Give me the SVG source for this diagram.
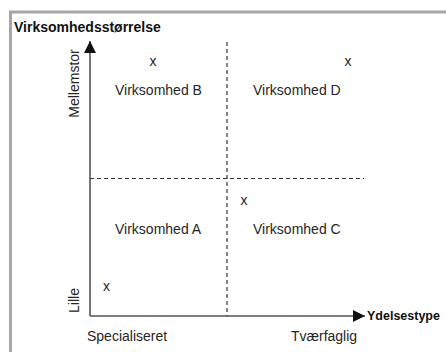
<svg xmlns="http://www.w3.org/2000/svg" width="446" height="352" viewBox="0 0 446 352">
<defs>
<style>
.lbl{font-family:"Liberation Sans",Arial,sans-serif;font-size:14px;fill:#262626}
.ttl{font-family:"Liberation Sans",Arial,sans-serif;font-size:14px;font-weight:bold;fill:#111}
.yt{font-family:"Liberation Sans",Arial,sans-serif;font-size:12.5px;font-weight:bold;fill:#111}
.axis{stroke:#555;stroke-width:1.6;fill:none}
.dash{stroke:#333;stroke-width:1.2;stroke-dasharray:4,3;fill:none}
</style>
<marker id="ah" viewBox="0 0 10 10" refX="10" refY="5" markerWidth="13" markerHeight="12" markerUnits="userSpaceOnUse" orient="auto">
<path d="M0,0 L10,5 L0,10 Z" fill="#111"/>
</marker>
</defs>
<rect width="446" height="352" fill="#fff"/>
<path d="M10.5,352 V12 H446" stroke="#a6a6a6" stroke-width="3" fill="none"/>
<g id="connectors">
<line class="axis" x1="90" y1="316" x2="90" y2="41" marker-end="url(#ah)"/>
<line class="axis" x1="90" y1="316" x2="365" y2="316" marker-end="url(#ah)"/>
<line class="dash" x1="227" y1="42" x2="227" y2="316"/>
<line class="dash" x1="90" y1="178.5" x2="364" y2="178.5"/>
</g>
<g id="title"><text class="ttl" x="14" y="32">Virksomhedsstørrelse</text></g>
<g id="xtitle"><text class="yt" x="367" y="320">Ydelsestype</text></g>
<g id="mellemstor"><text class="lbl" transform="translate(79,83.5) rotate(-90)" text-anchor="middle">Mellemstor</text></g>
<g id="lille"><text class="lbl" transform="translate(79,300.5) rotate(-90)" text-anchor="middle">Lille</text></g>
<g id="specialiseret"><text class="lbl" x="87" y="341">Specialiseret</text></g>
<g id="tvaerfaglig"><text class="lbl" x="291" y="341">Tværfaglig</text></g>
<g id="virksomhedB"><text class="lbl" x="153" y="66" text-anchor="middle">x</text><text class="lbl" x="115" y="95">Virksomhed B</text></g>
<g id="virksomhedD"><text class="lbl" x="348" y="66" text-anchor="middle">x</text><text class="lbl" x="253" y="95">Virksomhed D</text></g>
<g id="virksomhedA"><text class="lbl" x="115" y="234">Virksomhed A</text><text class="lbl" x="106.5" y="291" text-anchor="middle">x</text></g>
<g id="virksomhedC"><text class="lbl" x="244" y="205" text-anchor="middle">x</text><text class="lbl" x="253" y="234">Virksomhed C</text></g>
</svg>
